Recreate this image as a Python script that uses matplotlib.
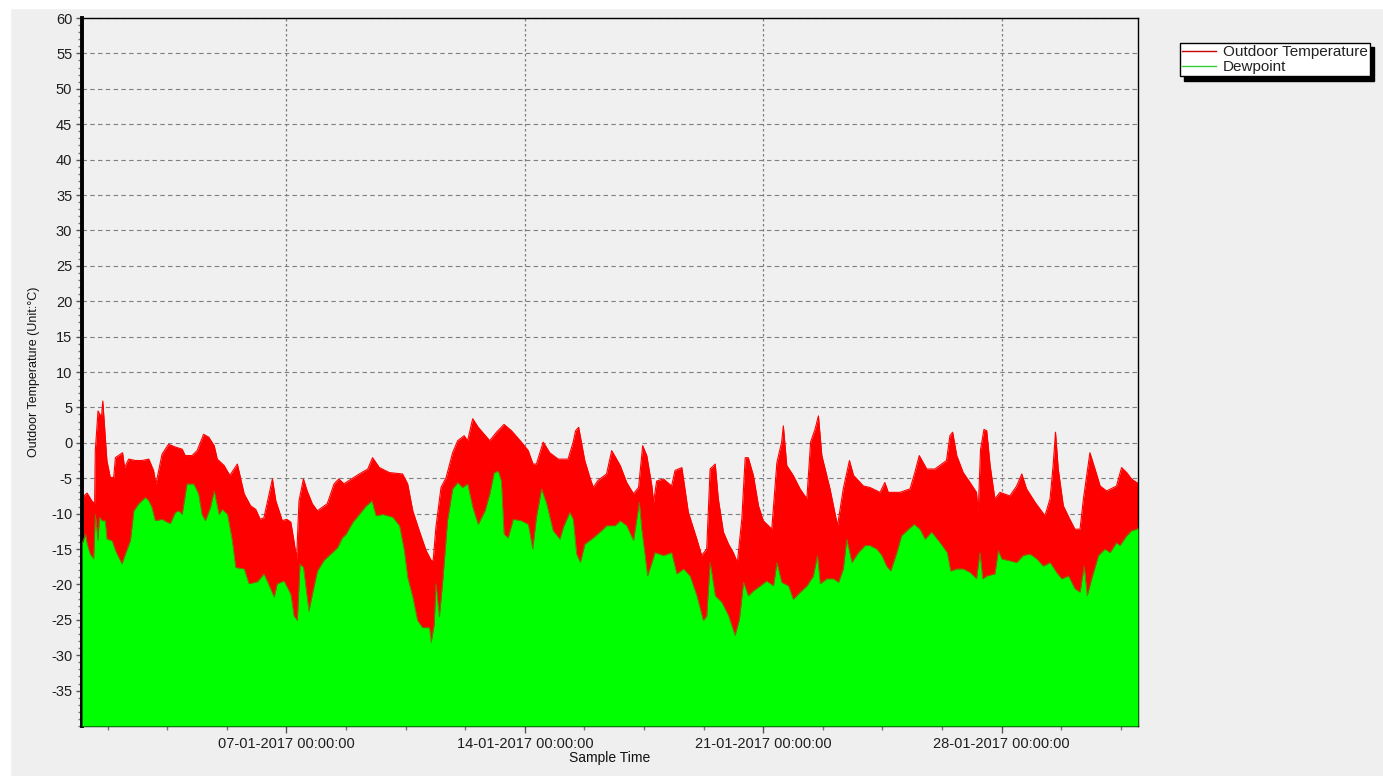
import numpy as np
import pandas as pd
import matplotlib
matplotlib.use('Agg')
import matplotlib.pyplot as plt
import matplotlib.dates as mdates
from matplotlib.ticker import MultipleLocator, AutoMinorLocator
from matplotlib.lines import Line2D
from matplotlib.patches import Rectangle

plt.rcParams['font.family'] = ['Liberation Sans', 'DejaVu Sans']
plt.rcParams['axes.unicode_minus'] = False

start = pd.Timestamp('2017-01-01 00:00:00')

# days since 01-01-2017 00:00 and outdoor temperature (upper envelope)
temp_days = [0.00, 0.15, 0.29, 0.37, 0.39, 0.47, 0.57, 0.61, 0.67, 0.73, 0.83, 0.93, 0.98, 1.13, 1.19, 1.25,
             1.37, 1.57, 1.76, 1.96, 2.10, 2.17, 2.35, 2.54, 2.74, 2.94, 3.03, 3.23, 3.38, 3.57, 3.72,
             3.88, 3.97, 4.17, 4.34, 4.56, 4.76, 4.95, 5.10, 5.23, 5.34, 5.59, 5.69, 5.88, 6.01, 6.13, 6.22,
             6.30, 6.37, 6.50, 6.61, 6.76, 6.91, 7.20, 7.40, 7.54, 7.69,
             7.75, 8.14, 8.39, 8.53, 8.73, 9.02, 9.41, 9.56, 9.71, 9.90, 10.10, 10.25, 10.31, 10.39, 10.54,
             10.69, 10.88, 11.03, 11.22, 11.32, 11.47,
             11.63, 11.97, 12.17, 12.39, 12.61, 12.90, 13.10, 13.24, 13.34, 13.54, 13.73, 13.98, 14.27, 14.42,
             14.49, 14.58, 14.66, 14.76, 14.91, 15.01, 15.15, 15.40,
             15.55, 15.80, 15.99, 16.19, 16.34, 16.46, 16.58, 16.73, 16.78, 16.87, 17.07, 17.31, 17.41, 17.61,
             17.80, 18.05, 18.19, 18.34, 18.44, 18.59, 18.68, 18.83, 18.98, 19.12, 19.24, 19.37, 19.47, 19.56,
             19.71, 19.86, 20.00, 20.15, 20.25, 20.40, 20.54, 20.59, 20.69, 20.88, 21.08, 21.28, 21.39, 21.52,
             21.62, 21.72, 21.96, 22.18, 22.35, 22.53, 22.65, 22.94,
             23.13, 23.43, 23.57, 23.67, 24.01, 24.31, 24.45, 24.58, 24.80, 25.04, 25.38, 25.48, 25.56, 25.68,
             25.87, 26.07, 26.26, 26.31, 26.38, 26.48, 26.56, 26.66, 26.80, 26.95, 27.24, 27.44, 27.59, 27.73,
             27.98, 28.27, 28.42, 28.51, 28.58, 28.66, 28.81, 29.00, 29.15, 29.30, 29.40, 29.59, 29.74, 29.89,
             30.08, 30.37, 30.52, 30.67, 30.81, 30.96, 31.00]
temp_vals = [-7.7, -7.1, -8.2, -8.6, -1.1, 4.5, 3.6, 5.9, 1.7, -2.5, -4.9, -4.9, -2.1, -1.6, -1.4, -3.5,
             -2.3, -2.5, -2.5, -2.3, -3.9, -5.8, -1.6, -0.2, -0.6, -0.9, -1.8, -1.8, -1.1, 1.2, 0.8,
             -0.4, -2.3, -3.2, -4.6, -3.0, -7.2, -8.9, -9.4, -10.8, -10.6, -5.1, -8.2, -11.0, -10.8, -11.2, -13.8,
             -16.4, -8.2, -5.1, -6.8, -8.6, -9.6, -8.6, -5.8, -5.1, -5.8,
             -5.6, -4.4, -3.7, -2.1, -3.5, -4.2, -4.4, -5.8, -9.6, -12.4, -15.2, -16.6, -16.6, -11.9, -6.3,
             -4.9, -1.4, 0.3, 1.0, 0.3, 3.4,
             2.2, 0.3, 1.5, 2.6, 1.7, 0.1, -1.1, -3.0, -3.0, 0.1, -1.4, -2.3, -2.3, 0.1,
             1.7, 2.2, 0.1, -2.5, -4.9, -6.3, -5.3, -4.4,
             -1.1, -3.2, -5.6, -7.2, -6.3, -0.4, -1.8, -6.1, -8.4, -5.4, -5.1, -6.1, -3.9, -3.5,
             -9.8, -13.6, -15.9, -15.0, -3.7, -3.0, -7.9, -12.6, -14.3, -15.5, -16.9, -10.8, -2.1, -2.1,
             -4.6, -8.9, -11.0, -11.7, -12.2, -2.8, 0.1, 2.4, -3.2, -4.6, -6.5, -7.9, 0.1, 1.9,
             3.8, -1.8, -6.5, -11.7, -6.5, -2.5, -4.6, -6.1,
             -6.3, -7.0, -5.6, -7.0, -7.0, -6.5, -4.2, -1.8, -3.7, -3.7, -2.5, 1.0, 1.5, -1.8,
             -4.2, -5.6, -7.0, -9.8, -0.9, 1.9, 1.7, -3.2, -7.9, -7.0, -7.5, -6.1, -4.4, -6.5,
             -8.4, -10.3, -7.9, -3.2, 1.5, -3.7, -8.9, -10.8, -12.2, -12.2, -7.9, -1.4, -3.7, -6.1,
             -6.8, -6.1, -3.5, -4.2, -5.1, -5.6, -5.7]

# dewpoint
dew_days = [0.00, 0.10, 0.15, 0.24, 0.34, 0.39, 0.47, 0.51, 0.59, 0.68, 0.73, 0.88, 0.98, 1.08, 1.17, 1.27,
            1.42, 1.52, 1.66, 1.86, 1.96, 2.05, 2.15, 2.35, 2.50, 2.59, 2.74, 2.84, 2.94, 3.08, 3.28, 3.42,
            3.52, 3.62, 3.77,
            3.88, 4.02, 4.12, 4.27, 4.41, 4.51, 4.76, 4.90, 5.15, 5.34, 5.49, 5.64, 5.73, 5.93, 6.13, 6.22,
            6.32, 6.40, 6.50, 6.66, 6.76, 6.91, 7.10, 7.30, 7.50, 7.64,
            7.75, 7.95, 8.14, 8.34, 8.51, 8.63, 8.83, 9.12, 9.32, 9.46, 9.56, 9.71, 9.85, 10.00, 10.20, 10.25,
            10.34, 10.39, 10.49, 10.59, 10.73, 10.88, 11.03, 11.17, 11.32, 11.47,
            11.63, 11.83, 11.97, 12.10, 12.22, 12.31, 12.39, 12.51, 12.66, 12.90, 13.10, 13.23, 13.34, 13.49,
            13.64, 13.83, 14.03, 14.13, 14.32, 14.42, 14.52, 14.63, 14.76, 15.01, 15.25, 15.40,
            15.65, 15.80, 15.99, 16.19, 16.36, 16.43, 16.53, 16.60, 16.73, 16.82, 17.07, 17.31, 17.46, 17.66,
            17.85, 18.05, 18.24, 18.34, 18.44, 18.59, 18.78, 18.98, 19.17, 19.30, 19.42, 19.56, 19.71, 19.91,
            20.10, 20.30, 20.40, 20.54, 20.74, 20.88, 21.08, 21.28, 21.47, 21.59, 21.67, 21.86, 22.06, 22.21,
            22.35, 22.45, 22.60, 22.79, 22.99,
            23.13, 23.33, 23.48, 23.62, 23.74, 23.92, 24.06, 24.26, 24.43, 24.60, 24.75, 24.94, 25.19, 25.40,
            25.50, 25.68, 25.87, 26.07, 26.26, 26.36, 26.44, 26.56, 26.80, 26.90, 27.00, 27.19, 27.44, 27.63,
            27.83, 28.03, 28.22, 28.42, 28.61, 28.76, 28.96, 29.15, 29.30, 29.42, 29.51, 29.64, 29.84, 30.03,
            30.18, 30.37, 30.47, 30.67, 30.81, 30.96, 31.00]
dew_vals = [-14.3, -12.9, -14.3, -15.7, -16.4, -10.1, -13.8, -10.5, -11.0, -11.0, -13.6, -13.8, -15.2, -16.2, -17.1, -15.7,
            -13.8, -9.6, -8.6, -7.7, -8.2, -9.1, -11.0, -10.8, -11.2, -11.4, -9.8, -9.6, -10.1, -5.8, -5.8, -7.2,
            -10.1, -11.0, -9.1,
            -6.8, -10.1, -9.4, -10.1, -13.8, -17.6, -17.8, -19.9, -19.6, -18.5, -20.1, -21.8, -19.9, -19.5, -21.4, -24.4,
            -25.1, -17.1, -17.6, -23.8, -21.4, -18.1, -16.6, -15.7, -14.8, -13.4,
            -12.9, -11.2, -10.1, -8.9, -8.2, -10.3, -10.1, -10.5, -11.7, -15.2, -19.0, -21.8, -25.1, -26.1, -26.1, -28.2,
            -25.6, -19.9, -24.6, -19.5, -11.0, -6.5, -5.6, -6.3, -5.8, -9.1,
            -11.5, -9.6, -7.2, -4.2, -4.0, -5.4, -12.9, -13.4, -10.8, -11.0, -11.5, -15.0, -10.5, -6.5,
            -8.6, -12.4, -13.6, -11.9, -9.8, -10.8, -15.7, -16.9, -14.3, -13.4, -12.4, -11.7,
            -11.7, -11.0, -11.7, -13.8, -8.4, -12.2, -15.9, -18.8, -16.9, -15.5, -15.9, -15.5, -18.5, -17.8,
            -18.8, -21.6, -25.1, -24.4, -16.9, -21.6, -22.5, -24.4, -27.2, -24.9, -19.7, -21.6, -20.9, -20.2,
            -19.5, -20.2, -16.9, -19.7, -20.2, -22.1, -21.1, -20.2, -18.8, -15.9, -19.9, -19.2, -19.2, -19.7,
            -17.8, -13.6, -16.9, -15.5, -14.5,
            -14.5, -15.0, -15.9, -17.4, -18.1, -15.5, -13.1, -12.2, -11.5, -12.2, -13.6, -12.6, -14.1, -15.5,
            -18.1, -17.8, -17.8, -18.3, -19.2, -15.5, -19.2, -18.8, -18.5, -15.2, -16.4, -16.6, -16.9, -15.9,
            -15.7, -16.4, -17.4, -16.9, -18.3, -19.2, -18.8, -20.6, -21.1, -17.4, -21.6, -19.2, -15.9, -15.0,
            -15.5, -14.1, -14.5, -13.1, -12.4, -12.2, -12.0]

series_names = ['Outdoor Temperature', 'Dewpoint']
y_min, y_max = -40, 60

t_temp = mdates.date2num(start + pd.to_timedelta(temp_days, unit='D'))
t_dew = mdates.date2num(start + pd.to_timedelta(dew_days, unit='D'))

fig = plt.figure(figsize=(13.83, 7.76), dpi=100, facecolor='#efefef')
ax = fig.add_axes([0.0593, 0.0644, 0.7635, 0.9124])
ax.set_facecolor('#f0f0f0')

# white strips round the screenshot edge
fig.patches.append(Rectangle((0, 0.99), 1, 0.01, transform=fig.transFigure, color='white', zorder=-1))
fig.patches.append(Rectangle((0, 0), 0.0072, 1, transform=fig.transFigure, color='white', zorder=-1))

ax.fill_between(t_temp, y_min, temp_vals, color='#ff0000', linewidth=0, zorder=2)
ax.plot(t_temp, temp_vals, color='#ff0000', linewidth=0.8, zorder=2)
ax.fill_between(t_dew, y_min, dew_vals, color='#00ff00', linewidth=0, zorder=3)
ax.plot(t_dew, dew_vals, color='#6f7a00', linewidth=0.6, zorder=3)

ax.set_xlim(mdates.date2num(start), mdates.date2num(start + pd.Timedelta(days=31)))
ax.set_ylim(y_min, y_max)

ax.xaxis.set_major_locator(mdates.DayLocator(bymonthday=[7, 14, 21, 28]))
ax.xaxis.set_major_formatter(mdates.DateFormatter('%d-%m-%Y %H:%M:%S'))
ax.xaxis.set_minor_locator(AutoMinorLocator(4))
ax.yaxis.set_minor_locator(MultipleLocator(1))

yt = np.arange(-35, 61, 5)
ax.set_yticks(yt)

ax.set_axisbelow(True)
ax.grid(axis='y', which='major', color='#7f7f7f', linestyle=(0, (4, 3)), linewidth=0.8)
ax.grid(axis='x', which='major', color='#7f7f7f', linestyle=(0, (2, 2)), linewidth=0.9)

ax.tick_params(axis='both', which='major', direction='out', length=4, width=1, color='#555555',
               labelsize=10.5, labelcolor='#1e1e1e')
ax.tick_params(axis='both', which='minor', direction='out', length=3, width=1, color='#777777')
ax.tick_params(axis='x', which='major', length=5, pad=3)
ax.tick_params(axis='y', which='major', pad=3)

for side in ['top', 'right', 'bottom']:
    ax.spines[side].set_color('black')
    ax.spines[side].set_linewidth(1)
ax.spines['left'].set_color('black')
ax.spines['left'].set_linewidth(2.8)

ax.set_ylabel('Outdoor Temperature (Unit:°C)', fontsize=9, color='#111111', labelpad=8)
ax.set_xlabel('Sample Time', fontsize=10, color='#111111', labelpad=0)

handles = [Line2D([], [], color='#cc0000', linewidth=1), Line2D([], [], color='#33cc33', linewidth=1)]
leg = fig.legend(handles, series_names, loc='upper left', bbox_to_anchor=(0.8532, 0.9446),
                 frameon=True, fancybox=False, edgecolor='black', facecolor='white', framealpha=1,
                 shadow={'color': 'black', 'alpha': 1, 'ox': 3, 'oy': -3}, fontsize=11,
                 handlelength=2.2, handletextpad=0.45, labelspacing=0.05, borderpad=0.15,
                 borderaxespad=0)
leg.get_frame().set_linewidth(1)
for txt in leg.get_texts():
    txt.set_color('#222222')

fig.savefig('out.png', dpi=100, facecolor=fig.get_facecolor())
